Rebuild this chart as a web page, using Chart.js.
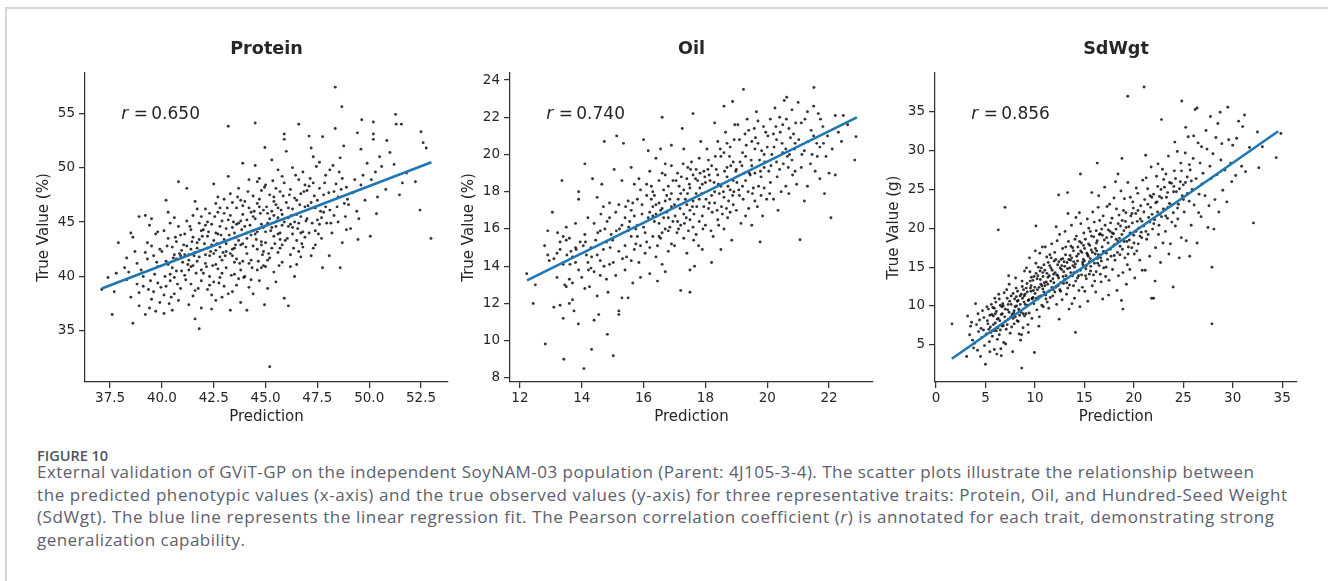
<!DOCTYPE html>
<html>
<head>
<meta charset="utf-8">
<script src="https://cdn.jsdelivr.net/npm/chart.js@4"></script>
<style>
  body { margin: 0; background: #fff; width: 1328px; height: 581px; overflow: hidden; position: relative; }
  #frame { position: absolute; left: 5px; top: 7px; width: 1400px; height: 700px; border-left: 2px solid #d6d6d6; border-top: 2px solid #d6d6d6; }
  canvas { position: absolute; }
  #figno { position: absolute; left: 37px; top: 449px; font: 600 14.5px/14px "Open Sans", sans-serif; color: #50545d; }
  #caption { position: absolute; left: 37px; top: 461.3px; font: 17px/22.5px "Open Sans", sans-serif; color: #5c606b; }
  #caption span { display: inline-block; white-space: nowrap; }
</style>
</head>
<body>
<div id="frame"></div>
<canvas id="c-protein" width="425" height="406" style="left:35px;top:20px"></canvas>
<canvas id="c-oil" width="423" height="406" style="left:460px;top:20px"></canvas>
<canvas id="c-sdwgt" width="425" height="406" style="left:885px;top:20px"></canvas>
<div id="figno">FIGURE 10</div>
<div id="caption">
<span data-w="1217">External validation of GViT-GP on the independent SoyNAM-03 population (Parent: 4J105-3-4). The scatter plots illustrate the relationship between</span><br>
<span data-w="1250">the predicted phenotypic values (x-axis) and the true observed values (y-axis) for three representative traits: Protein, Oil, and Hundred-Seed Weight</span><br>
<span data-w="1237">(SdWgt). The blue line represents the linear regression fit. The Pearson correlation coefficient (<i>r</i>) is annotated for each trait, demonstrating strong</span><br>
<span data-w="208">generalization capability.</span>
</div>
<script>
const $ = id => document.getElementById(id);

// ---- Protein ----
const proteinPoints = [
  [37.1,38.8],[37.7,38.6],[37.6,36.5],[37.9,43.1],[37.4,39.9],[37.8,40.3],
  [38.2,40.8],[38.3,41.7],[38.6,35.7],[38.5,38.1],[38.4,40.4],[38.7,42.3],[38.8,39.3],[38.9,37.3],[38.6,43.6],[38.9,45.5],[38.3,39.7],[38.8,41.2],[38.5,44.0],[38.9,38.5],
  [39.2,36.5],[39.4,37.1],[39.1,40.0],[39.3,41.6],[39.5,42.8],[39.7,43.9],[39.2,45.6],[39.6,38.6],[39.8,40.9],[39.4,44.7],[39.9,37.6],[39.1,39.1],[39.6,41.9],[39.3,43.1],[39.8,39.4],[39.5,45.3],[39.7,36.8],[39.9,42.5],[39.0,40.6],[39.5,37.9],[39.8,44.1],[39.2,42.2],
  [40.1,38.3],[40.2,41.4],[40.3,43.5],[40.5,36.9],[40.4,39.6],[40.6,42.0],[40.8,44.6],[40.2,47.0],[40.7,40.5],[40.9,38.9],[40.1,44.2],[40.3,41.1],[40.5,42.7],[40.6,45.4],[40.8,37.8],[40.4,40.2],[40.9,41.9],[40.2,39.1],[40.7,43.2],[40.0,42.3],[40.6,38.4],[40.8,48.7],[40.3,45.9],[40.9,43.8],[40.5,40.8],[40.1,36.6],[40.7,41.6],[40.4,44.9],[40.6,39.9],[40.95,42.4],
  [41.1,40.1],[41.2,42.8],[41.4,44.3],[41.6,38.7],[41.3,41.5],[41.5,43.6],[41.8,35.2],[41.7,46.2],[41.9,40.6],[41.2,48.1],[41.4,39.3],[41.6,42.2],[41.8,44.9],[41.3,37.4],[41.5,41.0],[41.7,43.1],[41.9,45.5],[41.1,43.9],[41.4,40.9],[41.6,36.1],[41.8,41.8],[41.2,45.1],[41.5,38.2],[41.7,42.6],[41.9,39.6],[41.3,42.0],[41.6,46.9],[41.0,41.3],[41.8,43.4],[41.4,42.5],[41.9,37.1],
  [42.1,41.2],[42.2,43.7],[42.4,37.0],[42.3,45.8],[42.5,39.5],[42.6,42.4],[42.8,44.6],[42.0,40.3],[42.7,47.3],[42.9,41.5],[42.2,38.8],[42.4,42.9],[42.6,44.0],[42.8,39.9],[42.1,46.2],[42.3,41.9],[42.5,43.3],[42.7,40.7],[42.9,45.1],[42.0,44.3],[42.4,38.3],[42.6,41.1],[42.8,42.7],[42.2,45.0],[42.5,48.5],[42.7,43.9],[42.9,38.1],[42.3,40.0],[42.6,46.7],[42.1,42.0],[42.8,41.8],[42.4,44.8],
  [43.1,42.3],[43.2,53.8],[43.3,36.9],[43.4,44.5],[43.5,40.2],[43.6,46.3],[43.8,42.9],[43.0,39.1],[43.7,48.1],[43.9,41.4],[43.2,45.2],[43.4,38.6],[43.6,43.6],[43.8,47.0],[43.1,40.8],[43.3,42.1],[43.5,44.0],[43.7,39.8],[43.9,45.7],[43.0,43.4],[43.4,46.8],[43.6,41.6],[43.8,37.6],[43.2,49.2],[43.5,42.6],[43.7,44.9],[43.9,43.0],[43.3,47.6],[43.1,44.4],[43.6,39.2],[43.8,45.1],[43.4,41.9],[43.9,50.4],[43.0,45.8],
  [44.1,43.5],[44.1,36.9],[44.3,45.9],[44.5,54.1],[44.2,41.2],[44.4,47.4],[44.6,42.5],[44.8,44.8],[44.0,40.0],[44.7,49.0],[44.9,41.0],[44.2,46.3],[44.4,38.4],[44.6,44.1],[44.8,47.9],[44.1,42.1],[44.3,43.8],[44.5,45.3],[44.7,39.6],[44.9,46.1],[44.0,44.6],[44.4,42.8],[44.6,48.7],[44.8,43.2],[44.2,39.0],[44.5,50.2],[44.7,44.4],[44.9,42.3],[44.3,41.5],[44.6,46.7],[44.95,37.4],[44.97,51.85],[44.1,45.2],[44.8,40.8],[44.4,44.2],[44.7,47.1],
  [45.2,31.7],[45.1,44.9],[45.3,42.6],[45.5,46.6],[45.7,44.0],[45.0,48.4],[45.4,40.4],[45.6,45.4],[45.8,42.9],[45.2,47.5],[45.4,43.7],[45.6,49.8],[45.8,41.3],[45.1,45.8],[45.3,44.5],[45.5,39.5],[45.7,47.8],[45.9,45.0],[45.0,43.1],[45.4,46.9],[45.6,42.2],[45.8,44.7],[45.2,41.7],[45.5,48.1],[45.7,43.4],[45.9,53.1],[45.9,52.6],[45.3,50.7],[45.9,38.0],[45.1,38.9],[45.6,46.3],[45.8,49.2],[45.4,45.6],[45.0,40.9],
  [46.0,51.5],[46.1,37.3],[46.1,44.6],[46.3,46.2],[46.5,43.3],[46.7,47.6],[46.2,42.0],[46.4,45.0],[46.6,48.9],[46.8,44.1],[46.4,40.0],[46.0,46.8],[46.3,43.9],[46.5,45.7],[46.7,41.8],[46.9,46.4],[46.2,48.0],[46.6,44.9],[46.8,42.7],[46.1,45.4],[46.4,47.2],[46.6,54.0],[46.9,43.6],[46.3,50.0],[46.7,45.5],[46.5,41.1],[46.2,44.8],[46.8,49.6],
  [47.1,52.9],[47.2,51.8],[47.0,45.3],[47.2,46.8],[47.4,44.2],[47.6,48.1],[47.8,45.9],[47.3,42.6],[47.5,47.0],[47.7,43.5],[47.9,49.3],[47.1,44.0],[47.3,48.6],[47.5,45.2],[47.75,40.8],[47.75,52.85],[47.4,46.3],[47.6,44.8],[47.8,47.5],[47.2,41.9],[47.9,46.4],[47.0,47.9],[47.6,50.5],
  [48.07,41.9],[48.36,57.4],[48.68,55.6],[48.36,53.6],[48.1,46.1],[48.3,47.8],[48.5,45.0],[48.7,49.0],[48.2,44.0],[48.4,48.5],[48.6,40.8],[48.8,46.7],[48.77,52.0],[48.9,44.3],[48.1,49.8],[48.5,47.3],[48.3,45.6],[48.7,43.1],[48.9,48.2],[48.6,50.9],
  [49.1,44.4],[49.46,43.4],[49.43,53.2],[49.6,51.7],[49.64,54.4],[49.2,47.7],[49.4,46.0],[49.7,49.3],[49.3,48.9],[49.8,47.0],[49.5,45.3],[49.9,50.4],[49.0,46.6],[49.6,48.4],
  [50.05,43.7],[50.2,54.2],[50.2,53.1],[50.2,52.6],[50.35,45.76],[50.85,52.5],[50.1,48.9],[50.4,47.3],[50.6,50.1],[50.3,49.6],[50.8,48.0],[50.5,51.0],
  [51.0,51.4],[51.27,54.9],[51.3,54.0],[51.55,54.0],[51.46,47.5],[51.8,49.5],[52.23,48.7],[52.45,46.1],[52.5,53.3],[52.6,52.3],[52.75,51.8],[52.98,43.5],[51.2,50.3],[51.6,48.6],
  // dense core
  [41.05,42.9],[41.25,41.1],[41.45,43.2],[41.65,40.3],[41.85,42.4],[41.15,39.7],[41.35,44.6],[41.55,41.9],[41.75,38.9],[41.95,43.7],[41.1,42.0],[41.3,40.6],[41.5,45.6],[41.7,41.4],[41.9,44.2],
  [42.05,43.0],[42.15,40.9],[42.25,44.1],[42.35,42.3],[42.45,41.0],[42.55,45.5],[42.65,43.0],[42.75,39.4],[42.85,43.8],[42.95,42.2],[42.1,44.7],[42.3,39.2],[42.5,42.1],[42.7,45.9],[42.9,40.3],[42.2,42.6],[42.6,37.8],[42.8,46.3],
  [43.05,41.9],[43.15,46.3],[43.25,43.8],[43.35,40.1],[43.45,45.0],[43.55,42.9],[43.65,47.3],[43.75,41.2],[43.85,44.3],[43.95,39.9],[43.1,43.0],[43.3,45.6],[43.5,41.3],[43.7,43.3],[43.9,46.5],[43.2,38.4],[43.4,42.5],[43.6,44.8],[43.8,40.6],[43.0,47.1],
  [44.05,42.7],[44.15,47.8],[44.25,44.7],[44.35,40.8],[44.45,46.0],[44.55,43.4],[44.65,41.4],[44.75,45.8],[44.85,42.0],[44.95,48.2],[44.1,44.0],[44.3,39.7],[44.5,43.9],[44.7,46.4],[44.9,44.5],[44.2,48.9],[44.4,45.5],[44.6,40.6],[44.8,42.9],[44.0,46.9],
  [45.05,46.4],[45.15,42.1],[45.25,44.2],[45.35,48.8],[45.45,43.0],[45.55,45.1],[45.65,41.0],[45.75,46.1],[45.85,47.4],[45.95,43.3],[45.1,41.5],[45.3,46.0],[45.5,44.6],[45.7,42.6],[45.9,48.6],[45.2,45.3],[45.4,47.3],[45.6,43.9],[45.8,45.7],[45.0,44.1],
  [46.05,43.5],[46.15,47.5],[46.25,45.6],[46.35,42.6],[46.45,49.3],[46.55,44.4],[46.65,46.6],[46.75,43.0],[46.85,47.8],[46.95,45.1],[46.1,46.3],[46.3,44.5],[46.5,47.0],[46.7,44.0],[46.9,48.4],[46.2,40.9],[46.6,42.3],
  [47.05,46.5],[47.15,49.0],[47.25,44.9],[47.35,47.4],[47.45,50.1],[47.55,43.9],[47.65,46.0],[47.85,48.6],[47.95,44.9],[47.1,48.3],[47.4,42.9],[47.7,45.4],[47.3,51.0],
  [48.05,47.7],[48.25,50.2],[48.45,46.4],[48.65,48.0],[48.85,45.5],[48.15,44.9],[48.55,49.6],[48.95,47.1],
  [39.35,38.8],[39.65,40.2],[39.95,39.0],[40.15,40.0],[40.35,37.5],[40.55,41.7],[40.75,39.3],[40.95,40.5],[40.25,42.8],[40.45,38.1],[40.65,43.6],[40.85,42.1],[39.75,41.3],[39.45,39.6]
];
const proteinFit = [[37.1, 38.9], [53.0, 50.5]];
const proteinRangeX = [36.29, 53.8], proteinRangeY = [30.3, 58.7];
const proteinTicksX = [37.5, 40, 42.5, 45, 47.5, 50, 52.5];
const proteinTicksY = [35, 40, 45, 50, 55];

// ---- Oil ----
const oilPoints = [
  [12.22,13.6],[12.43,12.0],[12.5,13.0],[12.82,9.82],[12.9,15.9],[12.9,14.6],[12.8,15.1],[12.95,14.3],[13.05,16.9],
  [13.1,11.8],[13.2,13.4],[13.3,11.9],[13.4,11.2],[13.42,9.0],[13.36,18.6],[13.2,14.7],[13.3,15.3],[13.4,14.1],[13.5,16.1],[13.5,12.9],[13.6,15.5],[13.7,14.5],[13.6,13.3],[13.7,12.2],[13.8,16.3],[13.8,15.0],[13.9,13.8],[13.89,10.9],[13.9,18.0],[13.9,17.6],[13.3,14.9],[13.5,15.4],[13.6,12.0],[13.1,14.4],[13.7,13.1],[13.8,14.2],[13.4,15.6],[13.95,15.3],[13.45,13.0],[13.65,14.8],[13.75,11.6],
  [14.07,8.5],[14.32,9.53],[14.4,11.1],[14.1,12.8],[14.0,13.4],[14.2,14.2],[14.3,15.0],[14.1,15.7],[14.4,16.3],[14.5,14.6],[14.6,13.5],[14.7,17.2],[14.73,20.7],[14.2,16.6],[14.8,15.3],[14.83,10.34],[14.9,14.1],[14.5,12.4],[14.6,15.9],[14.8,13.3],[14.3,13.9],[14.7,14.9],[14.9,16.6],[14.1,19.5],[14.35,18.7],[14.45,15.4],[14.55,11.4],[14.65,18.4],[14.85,12.6],[14.95,15.7],[14.25,12.9],[14.15,14.6],[14.75,16.0],[14.6,14.3],[14.4,13.7],[14.9,17.4],[14.05,15.1],[14.5,17.7],
  [15.02,9.19],[15.13,21.0],[15.2,11.4],[15.2,11.6],[15.1,13.5],[15.2,14.8],[15.3,16.2],[15.4,15.1],[15.5,17.5],[15.6,14.3],[15.7,16.7],[15.8,15.6],[15.9,18.1],[15.3,12.3],[15.4,13.8],[15.5,15.9],[15.6,17.0],[15.7,14.9],[15.8,16.2],[15.9,13.4],[15.1,16.9],[15.3,18.6],[15.5,12.3],[15.6,19.3],[15.8,17.6],[15.0,15.4],[15.4,16.6],[15.7,18.4],[15.9,15.1],[15.2,17.3],[15.6,15.6],[15.85,14.2],[15.45,14.5],[15.95,16.8],[15.05,19.2],[15.35,20.6],[15.65,13.1],[15.75,16.0],
  [16.0,20.8],[16.6,22.0],[16.1,15.3],[16.2,16.9],[16.3,18.0],[16.4,14.5],[16.5,17.4],[16.6,15.8],[16.7,18.9],[16.8,16.6],[16.9,17.9],[16.0,16.1],[16.2,13.6],[16.3,17.2],[16.4,19.8],[16.5,16.3],[16.6,14.1],[16.7,17.5],[16.8,18.3],[16.9,15.2],[16.1,17.8],[16.3,15.6],[16.4,16.8],[16.5,18.6],[16.6,17.1],[16.7,16.0],[16.8,14.8],[16.9,19.4],[16.2,19.1],[16.45,13.2],[16.55,20.3],[16.75,16.9],[16.85,17.6],[16.05,14.7],[16.35,16.4],[16.65,18.1],[16.95,16.4],[16.25,17.6],[16.15,20.2],[16.7,13.7],[16.9,20.5],[16.55,15.5],
  [17.2,12.7],[17.5,12.6],[17.6,22.2],[17.1,16.4],[17.2,17.9],[17.3,15.5],[17.4,18.7],[17.5,17.0],[17.6,16.1],[17.7,19.2],[17.8,17.6],[17.9,18.4],[17.0,17.3],[17.1,19.0],[17.3,16.8],[17.4,14.7],[17.5,18.2],[17.6,17.5],[17.7,15.7],[17.8,19.8],[17.9,16.7],[17.2,16.2],[17.4,17.3],[17.6,18.9],[17.8,16.4],[17.0,15.1],[17.3,20.3],[17.5,16.5],[17.7,17.9],[17.9,14.9],[17.15,18.3],[17.35,17.6],[17.55,19.6],[17.75,18.6],[17.95,17.2],[17.05,18.6],[17.45,15.9],[17.65,14.0],[17.85,20.7],[17.25,21.4],[17.5,13.8],[17.95,19.1],[17.3,18.1],
  [18.2,14.2],[18.6,22.6],[18.88,22.85],[18.0,18.5],[18.1,17.1],[18.2,19.4],[18.3,18.0],[18.4,16.5],[18.5,19.9],[18.6,17.7],[18.7,18.8],[18.8,20.4],[18.9,17.3],[18.0,16.2],[18.1,19.7],[18.3,17.4],[18.4,20.7],[18.5,18.3],[18.6,16.0],[18.7,19.3],[18.8,18.1],[18.9,19.6],[18.2,17.8],[18.4,18.9],[18.6,20.1],[18.8,16.9],[18.05,20.3],[18.25,15.6],[18.45,17.9],[18.65,21.2],[18.85,15.4],[18.15,18.6],[18.35,19.2],[18.55,16.8],[18.75,17.5],[18.95,21.6],[18.5,14.9],[18.3,21.7],[18.7,20.6],[18.9,18.6],
  [19.23,23.5],[19.77,15.3],[19.5,16.2],[19.0,19.2],[19.1,17.8],[19.2,20.1],[19.3,18.6],[19.4,21.3],[19.5,19.4],[19.6,17.5],[19.7,20.6],[19.8,18.8],[19.9,20.0],[19.0,17.0],[19.1,20.8],[19.2,18.3],[19.3,19.9],[19.4,17.1],[19.5,20.7],[19.6,19.0],[19.7,21.8],[19.8,17.8],[19.9,19.3],[19.15,16.3],[19.35,21.9],[19.55,18.2],[19.75,19.7],[19.95,21.2],[19.05,21.6],[19.25,19.0],[19.45,18.9],[19.65,22.3],[19.85,16.7],[19.6,20.3],[19.3,16.7],[19.9,18.2],
  [20.63,23.08],[20.0,20.4],[20.1,18.5],[20.2,21.1],[20.3,19.6],[20.4,22.0],[20.5,20.1],[20.6,18.3],[20.7,21.4],[20.8,19.7],[20.9,20.6],[20.1,21.9],[20.2,17.6],[20.3,20.8],[20.4,19.2],[20.5,21.6],[20.6,20.3],[20.7,17.9],[20.8,22.4],[20.9,19.1],[20.05,19.1],[20.25,22.5],[20.45,18.0],[20.65,19.9],[20.85,21.1],[20.35,17.0],[20.55,22.9],[20.95,18.4],[20.15,20.0],[20.75,20.9],
  [21.06,15.42],[21.51,23.6],[21.1,21.7],[21.2,20.2],[21.3,22.3],[21.4,19.5],[21.5,21.0],[21.6,20.6],[21.7,18.7],[21.8,21.5],[21.9,19.9],[21.0,22.8],[21.3,18.3],[21.5,22.6],[21.7,20.4],[21.2,17.5],[21.45,20.0],[21.65,22.2],[21.85,17.9],[21.1,19.3],[21.95,21.0],[21.55,19.1],
  [22.06,16.6],[22.2,22.1],[22.46,22.1],[22.87,20.96],[22.83,19.7],[22.1,20.3],[22.3,21.2],[22.0,19.0],[22.6,21.6],[22.4,20.7],[22.2,18.9],
  // dense core
  [15.55,16.4],[15.65,17.4],[15.75,15.2],[15.85,18.7],[15.95,17.3],[16.05,15.8],[16.15,16.6],[16.25,18.3],[16.35,17.8],[16.45,15.1],[16.55,17.0],[16.65,16.6],[16.75,17.8],[16.85,16.1],[16.95,18.6],[16.1,18.4],[16.3,16.7],[16.5,15.6],[16.7,19.5],[16.9,17.2],[16.2,15.0],[16.4,17.3],[16.6,19.0],[16.8,15.9],
  [17.02,16.7],[17.12,17.6],[17.22,18.8],[17.32,16.3],[17.42,17.9],[17.52,19.2],[17.62,15.4],[17.72,17.2],[17.82,18.2],[17.92,16.0],[17.08,15.8],[17.18,17.1],[17.28,19.5],[17.38,16.6],[17.48,18.4],[17.58,17.2],[17.68,18.7],[17.78,15.1],[17.88,17.9],[17.98,18.8],[17.13,16.0],[17.43,19.3],[17.63,16.8],[17.83,19.0],
  [18.02,17.6],[18.12,18.9],[18.22,16.9],[18.32,19.9],[18.42,18.4],[18.52,17.2],[18.62,19.1],[18.72,16.6],[18.82,19.4],[18.92,18.0],[18.08,19.2],[18.18,15.9],[18.28,18.5],[18.38,17.0],[18.48,20.3],[18.58,18.0],[18.68,17.1],[18.78,19.9],[18.88,17.8],[18.98,19.1],[18.13,17.4],[18.43,16.2],[18.73,18.3],[18.93,20.8],
  [19.02,18.5],[19.12,19.6],[19.22,17.6],[19.32,20.5],[19.42,19.0],[19.52,17.9],[19.62,20.9],[19.72,18.3],[19.82,20.2],[19.92,19.6],[19.08,18.1],[19.28,21.1],[19.48,19.7],[19.68,17.2],[19.88,21.5],[19.18,19.4],[19.38,18.0],[19.58,21.4],[19.78,19.1],[19.98,17.6],
  [20.02,21.0],[20.12,19.4],[20.22,20.4],[20.32,18.8],[20.42,21.2],[20.52,19.5],[20.62,21.9],[20.72,20.0],[20.82,18.9],[20.92,21.7],[20.08,17.9],[20.28,21.5],[20.48,20.6],[20.68,19.3],[20.88,20.3],
  [14.12,15.3],[14.22,13.8],[14.32,14.5],[14.52,15.8],[14.62,16.8],[14.72,14.0],[14.82,16.4],[14.92,15.0],[15.02,14.2],[15.12,15.9],[15.22,16.0],[15.32,14.4],[15.42,17.2],[15.52,16.1],[13.82,14.9],[13.62,14.1],[13.52,14.6],[13.22,15.8],
  [21.02,20.8],[21.22,21.9],[21.42,21.3],[21.62,19.9],[21.82,20.6],[21.32,20.7],[21.72,21.9],[21.12,20.0]
];
const oilFit = [[12.23, 13.24], [22.9, 22.0]];
const oilRangeX = [11.68, 23.42], oilRangeY = [7.78, 24.38];
const oilTicksX = [12, 14, 16, 18, 20, 22];
const oilTicksY = [8, 10, 12, 14, 16, 18, 20, 22, 24];

// ---- SdWgt ----
const sdwgtPoints = [
  [1.62,7.7],[3.1,3.5],[3.2,8.7],[3.4,6.3],[3.5,7.4],[3.7,5.6],[3.8,4.6],[3.9,5.2],[4.0,10.3],[4.1,7.6],[4.2,4.3],[4.3,6.7],[4.4,8.2],[4.5,3.5],[4.6,5.9],[4.7,9.4],[4.8,6.9],[4.9,4.9],[5.0,2.5],[3.6,7.9],[4.25,9.0],[4.55,7.1],[4.85,8.5],
  [5.1,6.4],[5.2,8.1],[5.3,9.6],[5.4,5.4],[5.5,7.3],[5.6,10.2],[5.7,6.1],[5.8,8.7],[5.9,4.4],[6.0,7.8],[6.1,9.3],[6.2,5.7],[6.3,19.8],[6.3,8.4],[6.4,10.9],[6.5,6.9],[6.6,3.6],[6.7,9.0],[6.8,7.5],[6.9,11.7],[6.98,22.7],[5.15,9.9],[5.35,7.0],[5.65,8.9],[5.85,6.8],[6.05,10.5],[6.25,7.2],[6.45,8.1],[6.65,9.9],[6.85,5.3],[6.15,3.8],[5.75,9.8],[6.55,4.5],[6.75,10.3],[6.35,11.5],[6.95,8.6],[5.95,11.0],[5.45,4.1],
  [7.0,9.6],[7.1,7.0],[7.2,11.0],[7.3,8.3],[7.4,12.8],[7.5,6.5],[7.6,10.2],[7.7,8.9],[7.8,11.6],[7.9,7.7],[8.0,9.9],[8.1,12.3],[8.2,8.1],[8.3,10.7],[8.4,6.4],[8.5,11.3],[8.6,9.2],[8.67,2.0],[8.7,13.2],[8.8,7.2],[8.9,10.5],[7.05,5.1],[7.25,9.5],[7.45,10.6],[7.65,7.3],[7.85,9.1],[8.05,13.6],[8.25,11.9],[8.45,8.8],[8.65,6.3],[8.85,12.1],[7.35,13.9],[7.75,4.1],[8.15,10.0],[8.55,5.6],[8.95,8.7],[7.55,8.6],[8.35,9.6],[8.75,11.0],[7.15,12.1],[7.95,10.9],[8.95,14.5],
  [9.0,11.5],[9.1,9.0],[9.2,12.9],[9.3,7.6],[9.4,10.8],[9.5,14.4],[9.6,11.9],[9.7,8.4],[9.8,13.3],[9.9,10.3],[10.0,12.4],[10.1,15.5],[10.2,9.5],[10.3,13.9],[10.4,11.2],[10.5,16.8],[10.6,12.8],[10.7,10.1],[10.8,14.3],[10.9,11.8],[9.15,14.9],[9.35,6.6],[9.55,12.3],[9.75,10.9],[9.95,4.0],[10.05,17.1],[10.25,12.1],[10.45,8.6],[10.65,14.9],[10.85,9.9],[9.45,16.2],[9.85,12.0],[10.15,11.0],[10.35,15.0],[10.55,13.4],[10.75,17.6],[10.95,13.0],[9.25,10.1],[9.65,13.7],[10.1,20.3],[10.4,7.4],[10.8,12.2],
  [11.0,14.6],[11.1,11.4],[11.2,16.3],[11.3,12.8],[11.4,9.7],[11.5,15.2],[11.6,13.2],[11.7,18.0],[11.8,11.3],[11.9,14.1],[12.0,16.9],[12.1,12.4],[12.2,10.2],[12.3,15.3],[12.4,24.3],[12.4,13.6],[12.5,19.2],[12.6,11.9],[12.7,14.7],[12.8,17.4],[12.9,12.9],[11.05,17.6],[11.25,10.5],[11.45,13.9],[11.65,16.2],[11.85,12.1],[12.05,14.3],[12.25,18.4],[12.45,8.3],[12.65,16.0],[12.85,13.8],[11.15,13.1],[11.55,11.1],[11.95,15.8],[12.35,12.6],[12.75,10.8],[11.35,15.6],[11.75,14.6],[12.15,20.2],[12.55,14.9],[12.95,15.7],
  [13.0,13.4],[13.1,16.6],[13.2,11.5],[13.3,24.6],[13.3,14.8],[13.4,18.3],[13.5,12.7],[13.6,15.9],[13.7,20.4],[13.8,13.9],[13.9,17.1],[14.0,11.0],[14.1,6.6],[14.1,15.4],[14.2,19.0],[14.3,13.6],[14.4,16.7],[14.5,22.0],[14.6,27.0],[14.6,14.6],[14.7,18.1],[14.8,12.4],[14.9,16.0],[13.05,19.6],[13.25,15.6],[13.45,9.6],[13.65,17.7],[13.85,15.2],[14.05,18.6],[14.25,14.4],[14.45,12.0],[14.65,20.6],[14.85,15.3],[13.15,13.9],[13.55,16.5],[13.95,14.3],[14.35,17.6],[14.75,16.9],[13.75,10.3],[14.15,21.4],[14.55,9.9],[14.95,19.4],[13.35,21.9],[13.9,12.6],
  [15.0,15.8],[15.1,18.6],[15.2,13.5],[15.3,21.2],[15.4,16.4],[15.5,14.1],[15.6,19.6],[15.7,17.2],[15.8,12.6],[15.9,15.9],[16.0,20.8],[16.1,16.7],[16.2,14.4],[16.3,28.4],[16.3,18.4],[16.4,22.7],[16.5,15.2],[16.6,19.3],[16.7,13.1],[16.8,17.6],[16.9,21.6],[15.05,11.9],[15.25,16.8],[15.45,20.0],[15.65,15.1],[15.85,22.1],[16.05,13.2],[16.25,17.1],[16.45,24.2],[16.65,16.2],[16.85,10.9],[15.15,14.8],[15.55,17.8],[15.95,18.9],[16.35,15.5],[16.75,19.9],[15.35,10.6],[15.75,24.6],[16.15,11.8],[16.55,21.0],[16.95,14.9],[15.6,16.1],[16.2,19.7],
  [17.0,17.0],[17.1,20.4],[17.2,15.0],[17.3,22.8],[17.4,18.1],[17.5,13.3],[17.6,19.6],[17.7,16.4],[17.8,21.3],[17.9,17.7],[18.0,23.9],[18.1,15.9],[18.2,19.9],[18.3,12.0],[18.4,27.0],[18.4,18.3],[18.5,21.7],[18.6,16.6],[18.7,24.8],[18.8,29.0],[18.8,19.2],[18.9,14.3],[17.05,25.3],[17.25,18.8],[17.45,11.4],[17.65,20.7],[17.85,14.7],[18.05,17.9],[18.25,22.5],[18.45,13.9],[18.65,20.3],[18.85,17.3],[17.15,13.8],[17.55,23.1],[17.95,19.3],[18.35,16.9],[18.75,10.7],[17.35,16.0],[17.75,18.9],[18.15,26.0],[18.55,18.7],[18.95,22.3],[19.39,37.0],[18.9,9.6],
  [19.0,19.7],[19.1,16.2],[19.2,22.0],[19.3,18.3],[19.4,25.9],[19.5,20.2],[19.6,14.7],[19.7,21.6],[19.8,17.5],[19.9,23.4],[20.0,19.1],[20.1,13.6],[20.2,21.9],[20.3,17.1],[20.4,24.5],[20.5,20.0],[20.6,15.9],[20.7,22.9],[20.8,18.8],[20.9,26.2],[21.04,38.2],[21.2,29.4],[19.05,23.8],[19.25,12.8],[19.45,17.6],[19.65,24.0],[19.85,20.7],[20.05,16.7],[20.25,25.2],[20.45,18.0],[20.65,21.2],[20.85,14.6],[19.15,20.9],[19.55,18.5],[19.95,22.6],[20.35,20.9],[20.75,19.5],[19.35,15.3],
  [21.0,20.3],[21.1,23.7],[21.3,18.6],[21.4,25.1],[21.5,21.4],[21.6,16.4],[21.7,22.7],[21.8,11.0],[21.9,19.9],[22.0,24.4],[22.0,11.0],[22.1,21.1],[22.2,17.5],[22.3,26.7],[22.4,22.1],[22.5,19.2],[22.6,24.1],[22.7,15.6],[22.8,34.0],[22.8,21.5],[22.9,27.6],[21.25,26.5],[21.45,19.2],[21.65,24.2],[21.85,21.8],[22.15,13.2],[22.35,23.4],[22.55,20.4],[22.75,25.0],[22.95,18.1],[21.15,14.6],[21.75,27.9],[22.45,28.3],
  [23.0,22.5],[23.1,25.3],[23.2,19.6],[23.3,24.0],[23.4,21.3],[23.5,29.3],[23.6,23.2],[23.7,18.0],[23.8,25.8],[23.98,12.45],[24.0,22.0],[24.1,27.4],[24.2,20.3],[24.3,24.7],[24.4,29.9],[24.5,23.1],[24.6,16.2],[24.7,26.0],[24.8,18.8],[24.85,36.4],[24.9,24.2],[23.25,27.0],[23.55,16.7],[23.85,20.8],[24.15,31.1],[24.45,21.2],[24.75,28.4],[23.45,22.7],[24.05,25.4],
  [25.0,25.6],[25.1,22.1],[25.2,29.7],[25.3,18.4],[25.4,26.6],[25.5,31.8],[25.6,23.5],[25.7,27.5],[25.8,20.4],[25.9,25.0],[26.0,29.0],[26.1,23.0],[26.2,35.3],[26.3,26.4],[26.4,35.5],[26.4,18.1],[26.5,31.0],[26.6,24.4],[26.7,28.4],[26.8,21.5],[26.9,25.7],[25.25,33.0],[25.65,16.4],[26.05,31.9],[26.55,22.0],[26.85,30.5],
  [27.0,27.1],[27.2,24.2],[27.4,30.2],[27.6,22.9],[27.75,34.4],[27.9,15.0],[27.9,7.7],[27.8,26.4],[28.0,29.6],[28.2,23.7],[28.3,31.7],[28.4,26.9],[28.6,22.1],[28.73,34.96],[28.8,28.8],[29.0,24.9],[27.3,32.6],[27.7,28.0],[28.1,19.9],[28.5,33.5],[28.9,30.9],[27.5,20.1],
  [29.5,35.6],[29.2,27.5],[29.4,23.4],[29.6,31.4],[29.8,28.4],[30.0,30.7],[30.3,26.8],[30.6,33.8],[30.9,28.0],[31.0,33.1],[31.2,34.6],[31.3,27.3],[31.7,30.4],[32.1,20.7],[32.5,32.4],[32.64,27.8],[33.0,30.5],[34.4,29.1],[34.87,32.2],[29.9,26.0],[30.4,31.6],
  // dense core
  [5.25,7.7],[5.55,6.6],[5.8,7.6],[6.0,9.0],[6.2,8.3],[6.4,6.3],[6.6,8.9],[6.8,10.0],[7.0,8.0],[7.2,7.6],[7.4,9.2],[7.6,11.3],[7.8,8.4],[5.45,8.8],[6.1,6.8],[6.7,7.4],[7.3,10.2],[7.9,9.4],[5.9,9.7],[6.5,10.1],
  [8.02,8.6],[8.22,10.6],[8.42,9.4],[8.62,11.5],[8.82,9.0],[9.02,10.2],[9.22,11.8],[9.42,9.1],[9.62,12.6],[9.82,11.1],[8.12,11.2],[8.32,8.0],[8.52,10.2],[8.72,12.5],[8.92,11.3],[9.12,12.3],[9.32,10.7],[9.52,13.2],[9.72,11.0],[9.92,13.8],
  [10.02,11.6],[10.22,13.5],[10.42,12.4],[10.62,11.3],[10.82,13.8],[11.02,12.6],[11.22,14.2],[11.42,11.9],[11.62,14.9],[11.82,13.5],[12.02,11.8],[12.22,14.0],[12.42,15.7],[12.62,13.0],[12.82,16.1],[10.12,14.2],[10.32,10.9],[10.52,14.5],[10.72,12.6],[10.92,15.3],[11.12,10.9],[11.32,13.7],[11.52,16.6],[11.72,12.4],[11.92,13.0],[12.12,16.0],[12.32,13.9],[12.52,12.1],[12.72,15.2],[12.92,14.4],
  [13.02,15.1],[13.22,13.0],[13.42,16.0],[13.62,14.3],[13.82,17.5],[14.02,15.0],[14.22,16.4],[14.42,13.9],[14.62,17.1],[14.82,15.6],[15.02,17.4],[15.22,15.2],[15.42,18.0],[15.62,14.5],[15.82,16.9],[16.02,15.5],[16.22,18.1],[16.42,16.6],[16.62,14.1],[16.82,19.1],[13.12,17.6],[13.32,12.3],[13.52,14.9],[13.72,16.2],[13.92,15.7],[14.12,13.2],[14.32,15.8],[14.52,18.3],[14.72,14.0],[14.92,17.8],[15.12,13.9],[15.32,16.6],[15.52,15.7],[15.72,19.0],[15.92,14.0],[16.12,17.4],[16.32,16.1],[16.52,19.2],[16.72,15.8],[16.92,17.0],
  [17.02,18.5],[17.22,16.8],[17.42,19.8],[17.62,17.3],[17.82,19.4],[18.02,16.5],[18.22,18.6],[18.42,20.6],[18.62,17.7],[18.82,21.0],[19.02,18.3],[19.22,20.1],[19.42,16.7],[19.62,19.4],[19.82,21.9],[20.02,18.1],[20.22,19.6],[20.42,22.3],[20.62,19.0],[20.82,20.9],[21.02,22.1],[21.22,19.6],[21.42,23.1],[21.62,20.8],[21.82,24.0],
  [22.02,20.6],[22.22,23.3],[22.42,25.4],[22.62,21.8],[22.82,23.9],[23.02,26.3],[23.22,21.6],[23.42,24.6],[23.62,25.9],[23.82,23.0],[24.02,24.7],[24.22,26.4],[24.42,22.6],[24.62,25.1],[24.82,27.4],[25.02,23.7],[25.22,25.9],[25.42,24.5],[25.62,28.2],[25.82,26.1]
];
const sdwgtFit = [[1.6, 3.2], [34.6, 32.5]];
const sdwgtRangeX = [-0.1, 36.5], sdwgtRangeY = [0.21, 40.0];
const sdwgtTicksX = [0, 5, 10, 15, 20, 25, 30, 35];
const sdwgtTicksY = [5, 10, 15, 20, 25, 30, 35];

const panelTitles = ['Protein', 'Oil', 'SdWgt'];
const yTitles = ['True Value (%)', 'True Value (%)', 'True Value (g)'];
const rValues = ['0.650', '0.740', '0.856'];

const FAMILY = '"DejaVu Sans", sans-serif';
Chart.defaults.font.family = FAMILY;
Chart.defaults.color = '#262626';

const INK = '#262626', SPINE = '#333333';

// panel title + r annotation, placed relative to the chart area
const annot = {
  id: 'annot',
  afterDraw(chart, args, o) {
    const { ctx, chartArea: a } = chart;
    ctx.save();
    ctx.fillStyle = INK;
    ctx.textAlign = 'center';
    ctx.textBaseline = 'middle';
    ctx.font = 'bold 17.6px ' + FAMILY;
    ctx.fillText(o.title, (a.left + a.right) / 2, a.top - 24);
    const x0 = a.left + 0.1 * (a.right - a.left);
    const y0 = a.top + 0.148 * (a.bottom - a.top);
    ctx.textAlign = 'left';
    ctx.textBaseline = 'alphabetic';
    ctx.font = 'italic 17px ' + FAMILY;
    ctx.fillText('r', x0, y0);
    ctx.font = '17px ' + FAMILY;
    ctx.fillText('=', x0 + 12.5, y0);
    ctx.fillText(o.r, x0 + 30, y0);
    ctx.restore();
  }
};

function axis(range, ticks, title, fmt, horizontal) {
  return {
    type: 'linear', min: range[0], max: range[1],
    afterBuildTicks: s => { s.ticks = ticks.map(v => ({ value: v })); },
    afterFit: s => { if (horizontal) s.height = 44; else s.width = 50; },
    grid: { drawOnChartArea: false, drawTicks: true, tickLength: 6, color: SPINE, lineWidth: 1.25 },
    border: { display: true, color: SPINE, width: 1.25 },
    ticks: { font: { size: 13.5 }, color: INK, padding: horizontal ? 2 : 4, maxRotation: 0, autoSkip: false, callback: v => fmt(v) },
    title: { display: true, text: title, font: { size: 15 }, color: INK, padding: 0 }
  };
}

function makeChart(id, i, pts, fit, rx, ry, tx, ty, fmtX, padRight) {
  return new Chart($(id), {
    type: 'scatter',
    data: {
      datasets: [
        { type: 'line', data: fit.map(([x, y]) => ({ x, y })), borderColor: '#1f77b4', borderWidth: 2.6, pointRadius: 0, fill: false, order: 0 },
        { data: pts.map(([x, y]) => ({ x, y })), pointRadius: 1.45, borderWidth: 0, backgroundColor: 'rgba(0,0,0,0.8)', order: 1 }
      ]
    },
    options: {
      responsive: false, animation: false, devicePixelRatio: 1,
      layout: { padding: { top: 53, right: padRight, bottom: 0, left: 0 } },
      plugins: { legend: { display: false }, tooltip: { enabled: false }, annot: { title: panelTitles[i], r: rValues[i] } },
      scales: {
        x: axis(rx, tx, 'Prediction', fmtX, true),
        y: axis(ry, ty, yTitles[i], v => String(v), false)
      }
    },
    plugins: [annot]
  });
}

makeChart('c-protein', 0, proteinPoints, proteinFit, proteinRangeX, proteinRangeY, proteinTicksX, proteinTicksY, v => v.toFixed(1), 12);
makeChart('c-oil', 1, oilPoints, oilFit, oilRangeX, oilRangeY, oilTicksX, oilTicksY, v => String(v), 10);
makeChart('c-sdwgt', 2, sdwgtPoints, sdwgtFit, sdwgtRangeX, sdwgtRangeY, sdwgtTicksX, sdwgtTicksY, v => String(v), 13);

// stretch each caption line to the width it has in the figure
document.querySelectorAll('#caption span').forEach(el => {
  const w = +el.dataset.w, n = el.textContent.length - 1;
  el.style.letterSpacing = ((w - el.getBoundingClientRect().width) / n) + 'px';
});
</script>
</body>
</html>
